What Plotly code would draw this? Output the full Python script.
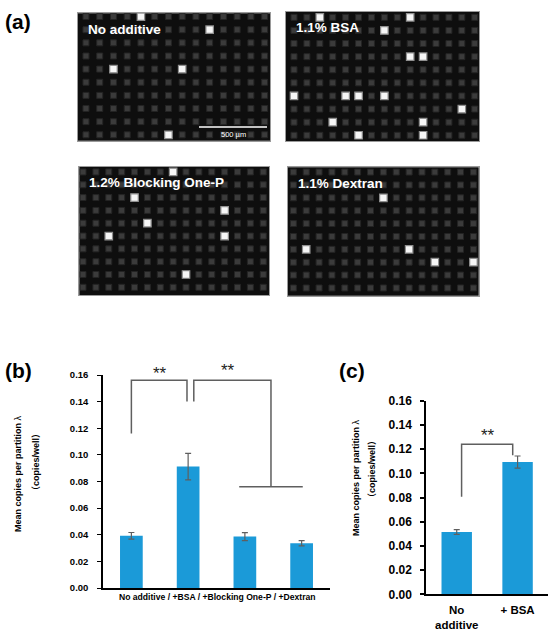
import numpy as np
import plotly.graph_objects as go

# ---------------- data ----------------
# panel (a): bright (positive) wells, as column / row indices of the well grid
IMG_TITLES = ["No additive", "1.1% BSA", "1.2% Blocking One-P", "1.1% Dextran"]
IMG_NCOLS = [14, 15, 15, 15]
IMG_NROWS = [10, 10, 10, 10]
IMG1_BRIGHT_COLS = [4, 9, 2, 7, 6]
IMG1_BRIGHT_ROWS = [0, 1, 4, 4, 9]
IMG2_BRIGHT_COLS = [2, 9, 7, 9, 10, 0, 4, 5, 7, 13, 3, 10, 5, 10]
IMG2_BRIGHT_ROWS = [0, 0, 1, 3, 3, 6, 6, 6, 6, 7, 8, 8, 9, 9]
IMG3_BRIGHT_COLS = [7, 4, 11, 5, 2, 11, 8]
IMG3_BRIGHT_ROWS = [0, 2, 3, 4, 5, 5, 8]
IMG4_BRIGHT_COLS = [7, 1, 9, 11, 14]
IMG4_BRIGHT_ROWS = [2, 6, 6, 7, 7]
SCALE_BAR_LABEL = "500 µm"

# panel (b)
B_CATEGORIES = ["No additive", "+BSA", "+Blocking One-P", "+Dextran"]
B_MEANS = [0.0392, 0.0912, 0.0386, 0.0336]
B_ERRORS = [0.0025, 0.0100, 0.0030, 0.0020]
B_XLABEL = "No additive / +BSA / +Blocking One-P / +Dextran"

# panel (c)
C_CATEGORIES = ["No<br>additive", "+ BSA"]
C_MEANS = [0.0515, 0.1093]
C_ERRORS = [0.0020, 0.0050]

Y_TICKS = [0.00, 0.02, 0.04, 0.06, 0.08, 0.10, 0.12, 0.14, 0.16]
Y_TITLE_1 = "<b>Mean copies per partition </b>λ"
Y_TITLE_2 = "<b>（copies/well）</b>"
SIG_LABEL = "**"

# ---------------- layout helpers ----------------
W, H = 550, 633
def dx(a, b):
    return [a / W, b / W]
def dy(top, bottom):
    return [1 - bottom / H, 1 - top / H]
def px(x):
    return x / W
def py(y):
    return 1 - y / H

FONT = "Arial, Liberation Sans, Noto Sans CJK SC, sans-serif"
BLUE = "#1b9ad8"
GREY = "#5f5f5f"

fig = go.Figure()

shapes = []
annotations = []
layout_axes = {}

def note(text, x, y, size, color="black", weight="normal", xanchor="center",
         yanchor="middle", angle=0):
    annotations.append(dict(text=text, x=px(x), y=py(y), xref="paper", yref="paper",
                            xanchor=xanchor, yanchor=yanchor, textangle=angle,
                            showarrow=False,
                            font=dict(family=FONT, size=size, color=color, weight=weight)))

# ---------------- panel (a) images ----------------
img_boxes = [  # left, right, top, bottom in px
    (78, 270, 13.3, 140.7),
    (286, 479, 11.7, 141.3),
    (79.3, 269.3, 166.7, 295),
    (287.7, 478.7, 167.3, 295.7),
]
img_xr = [(-0.58, 13.39), (-0.62, 14.33), (-0.29, 14.47), (-0.44, 14.41)]
img_yr = [(-0.25, 9.45), (-0.43, 9.46), (-0.41, 9.6), (-0.37, 9.6)]
bright = [
    (IMG1_BRIGHT_COLS, IMG1_BRIGHT_ROWS),
    (IMG2_BRIGHT_COLS, IMG2_BRIGHT_ROWS),
    (IMG3_BRIGHT_COLS, IMG3_BRIGHT_ROWS),
    (IMG4_BRIGHT_COLS, IMG4_BRIGHT_ROWS),
]

for i in range(4):
    n = i + 1
    xa = "x" if n == 1 else f"x{n}"
    ya = "y" if n == 1 else f"y{n}"
    gx, gy = np.meshgrid(np.arange(IMG_NCOLS[i]), np.arange(IMG_NROWS[i]))
    fig.add_trace(go.Scatter(
        x=gx.ravel(), y=gy.ravel(), mode="markers", xaxis=xa, yaxis=ya,
        marker=dict(symbol="square", size=6, color="#3b3b3b",
                    line=dict(width=1, color="#242424")),
        showlegend=False, hoverinfo="skip"))
    bc, br = bright[i]
    fig.add_trace(go.Scatter(
        x=bc, y=br, mode="markers", xaxis=xa, yaxis=ya,
        marker=dict(symbol="square", size=7.5, color="#f6f6f6",
                    line=dict(width=1.2, color="#8f8f8f")),
        showlegend=False, hoverinfo="skip"))
    l, r, t, b = img_boxes[i]
    key = "" if n == 1 else str(n)
    layout_axes[f"xaxis{key}"] = dict(domain=dx(l, r), range=list(img_xr[i]),
                                      showgrid=False, zeroline=False, showticklabels=False,
                                      ticks="", showline=True, mirror=True, automargin=False,
                                      linecolor="#9a9a9a", linewidth=1, anchor=ya,
                                      fixedrange=True)
    layout_axes[f"yaxis{key}"] = dict(domain=dy(t, b), range=[img_yr[i][1], img_yr[i][0]],
                                      showgrid=False, zeroline=False, showticklabels=False,
                                      ticks="", showline=True, mirror=True, automargin=False,
                                      linecolor="#9a9a9a", linewidth=1, anchor=xa,
                                      fixedrange=True)
    shapes.append(dict(type="rect", xref=f"{xa} domain", yref=f"{ya} domain",
                       x0=0, x1=1, y0=0, y1=1, fillcolor="#0e0e0e",
                       line=dict(width=0), layer="below"))
    note(IMG_TITLES[i], l + 8, t + 16, 13.5, color="white", weight="bold", xanchor="left")

# scale bar on image 1
shapes.append(dict(type="line", xref="paper", yref="paper", x0=px(199), x1=px(267),
                   y0=py(127), y1=py(127), line=dict(color="white", width=1.5)))
note(SCALE_BAR_LABEL, 233, 134.5, 7.5, color="white")

# panel letters
for lab, x, y in [("(a)", 3, 22), ("(b)", 3, 370), ("(c)", 337, 370)]:
    note(lab, x, y, 21, weight="bold", xanchor="left")

# ---------------- panel (b) ----------------
fig.add_trace(go.Bar(
    x=list(range(len(B_CATEGORIES))), y=B_MEANS, width=0.4, xaxis="x5", yaxis="y5",
    marker=dict(color=BLUE, line=dict(width=0)),
    error_y=dict(type="data", array=B_ERRORS, color=GREY, thickness=1.2, width=3),
    showlegend=False, hovertext=B_CATEGORIES))

b_brackets = [
    ([0, 0, 0.98, 0.98], [0.116, 0.156, 0.156, 0.140]),
    ([1.10, 1.10, 2.46, 2.46], [0.140, 0.156, 0.156, 0.076]),
    ([1.9, 3.02], [0.076, 0.076]),
]
for bx, by in b_brackets:
    fig.add_trace(go.Scatter(x=bx, y=by, mode="lines", xaxis="x5", yaxis="y5",
                             line=dict(color=GREY, width=1.5), showlegend=False,
                             hoverinfo="skip", cliponaxis=False))

layout_axes["xaxis5"] = dict(domain=dx(103, 330), range=[-0.5, 3.5], showgrid=False,
                             zeroline=False, showticklabels=False, ticks="", automargin=False,
                             showline=True, linecolor="black", linewidth=1.5, anchor="y5",
                             fixedrange=True)
layout_axes["yaxis5"] = dict(domain=dy(375, 588), range=[0, 0.16], tickvals=Y_TICKS,
                             tickformat=".2f", showgrid=False, zeroline=False, automargin=False,
                             ticks="outside", ticklen=4, tickcolor="black", tickwidth=1.2,
                             showline=True, linecolor="black", linewidth=1.5, anchor="x5",
                             ticklabelstandoff=7, fixedrange=True,
                             tickfont=dict(family=FONT, size=9.5, color="black", weight="bold"))
note(B_XLABEL, 217, 596.5, 8.6, weight="bold")
note(Y_TITLE_1, 18, 474, 9, angle=-90)
note(Y_TITLE_2, 36, 462, 9, angle=-90)

# significance stars
for sx, sy in [(159.5, 373), (228, 370), (487.5, 435)]:
    note(SIG_LABEL, sx, sy, 17, color="#222222")

# ---------------- panel (c) ----------------
fig.add_trace(go.Bar(
    x=list(range(len(C_CATEGORIES))), y=C_MEANS, width=0.5, xaxis="x6", yaxis="y6",
    marker=dict(color=BLUE, line=dict(width=0)),
    error_y=dict(type="data", array=C_ERRORS, color=GREY, thickness=1.2, width=3),
    showlegend=False))
fig.add_trace(go.Scatter(x=[0.08, 0.08, 0.92, 0.92], y=[0.0807, 0.124, 0.124, 0.115],
                         mode="lines", xaxis="x6", yaxis="y6",
                         line=dict(color=GREY, width=1.5), showlegend=False,
                         hoverinfo="skip"))
layout_axes["xaxis6"] = dict(domain=dx(426.3, 548), range=[-0.5, 1.5], showgrid=False,
                             zeroline=False, tickvals=[0, 1], ticktext=C_CATEGORIES,
                             ticks="", showline=True, linecolor="black", linewidth=2,
                             anchor="y6", ticklabelstandoff=4, automargin=False,
                             fixedrange=True,
                             tickfont=dict(family=FONT, size=11.5, color="black", weight="bold"))
layout_axes["yaxis6"] = dict(domain=dy(400.7, 594.3), range=[0, 0.16], tickvals=Y_TICKS,
                             tickformat=".2f", showgrid=False, zeroline=False, automargin=False,
                             ticks="outside", ticklen=4, tickcolor="black", tickwidth=1.5,
                             showline=True, linecolor="black", linewidth=2, anchor="x6",
                             ticklabelstandoff=6, fixedrange=True,
                             tickfont=dict(family=FONT, size=12, color="black", weight="bold"))
note(Y_TITLE_1, 356, 478, 9, angle=-90)
note(Y_TITLE_2, 372, 469, 9, angle=-90)

fig.update_layout(
    template="none",
    width=W, height=H, margin=dict(l=0, r=0, t=0, b=0, autoexpand=False),
    paper_bgcolor="white", plot_bgcolor="rgba(0,0,0,0)",
    shapes=shapes, annotations=annotations, showlegend=False,
    **layout_axes)

# the page's default 8px body margin would shift the figure; remove it
fig.write_html("out.html", config={"displayModeBar": False},
               post_script="document.body.style.margin='0';document.body.style.overflow='hidden';")
